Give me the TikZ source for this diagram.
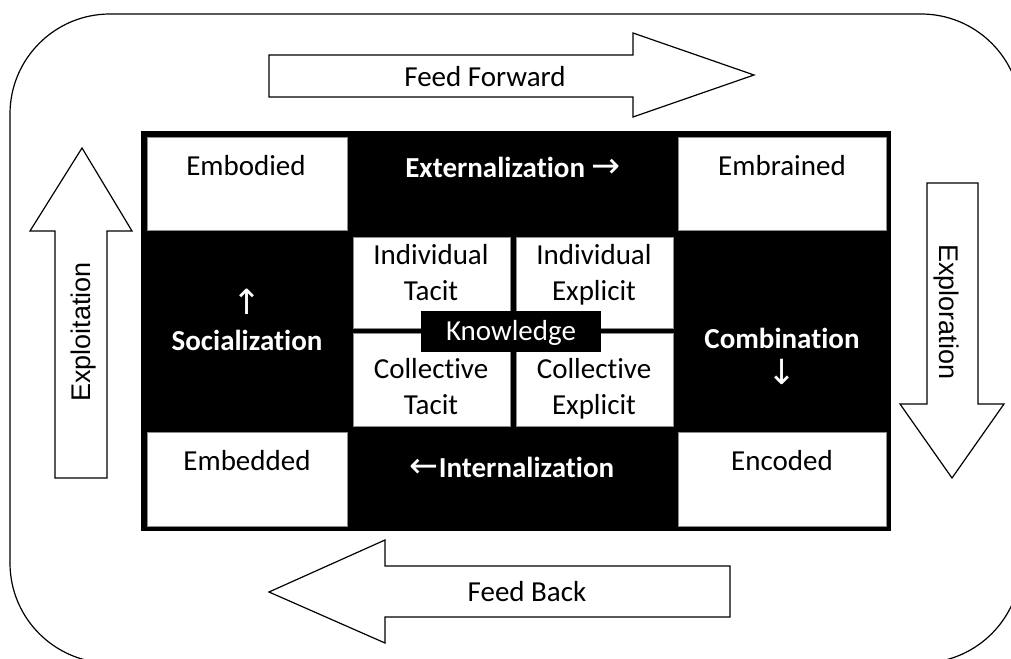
\documentclass[tikz,border=0pt]{standalone}
\usepackage{fontspec}
\setmainfont{Carlito}[Ligatures={NoCommon}]
\newfontfamily\arrowfont{DejaVu Sans}
\newfontfamily\vertfont{Liberation Sans}
\usepackage{tikz}
\usetikzlibrary{positioning}

\newcommand\arr[1]{{\arrowfont\mdseries\fontsize{26}{27}\selectfont #1}}

\tikzset{
  cell/.style={fill=white,draw=black!45,line width=0.4pt},
  lbl/.style={font=\fontsize{21.75}{27}\selectfont,align=center,inner sep=0pt},
  dark/.style={lbl,text=white,font=\fontsize{21.75}{27}\selectfont\bfseries},
  fatarrow/.style={draw=black,fill=white,line width=0.9pt,line join=miter},
  vlbl/.style={font=\vertfont\fontsize{20.25}{24}\selectfont,inner sep=0pt}
}

\begin{document}
\begin{tikzpicture}[x=0.75pt,y=-0.75pt]
\useasboundingbox (0,0) rectangle (1011,659);
% outer frame
\draw[line width=0.9pt,rounded corners=75pt] (10,14) rectangle (1021,663);
% the grid
\fill[black] (141,131) rectangle (891,531);
\draw[cell] (147,137) rectangle (347,230);
\draw[cell] (678,137) rectangle (886,230);
\draw[cell] (147,432) rectangle (347,526);
\draw[cell] (678,432) rectangle (886,526);
\draw[cell] (353,237) rectangle (510,328);
\draw[cell] (516,237) rectangle (673,328);
\draw[cell] (353,333) rectangle (510,426);
\draw[cell] (516,333) rectangle (673,426);
\fill[black] (421,311) rectangle (601,352);
% corner labels
\node[lbl](embodied) at (246,166){Embodied};
\node[lbl](embrained) at (782,166){Embrained};
\node[lbl](embedded) at (247,461){Embedded};
\node[lbl](encoded) at (782,461){Encoded};
% modes
\node[dark](extern) at (513,167){Externalization \arr{→}};
\node[dark](social) at (247,320){\arr{↑}\\Socialization};
\node[dark](combin) at (782,356){Combination\\\arr{↓}};
\node[dark](intern) at (512,467){\arr{←}Internalization};
% centre
\node[lbl](indtacit) at (431,275){Individual\strut\\Tacit\strut};
\node[lbl](indexpl) at (594,275){Individual\strut\\Explicit\strut};
\node[lbl](coltacit) at (431,389){Collective\strut\\Tacit\strut};
\node[lbl](colexpl) at (594,389){Collective\strut\\Explicit\strut};
\node[lbl,text=white](knowledge) at (511,333){Knowledge};
% big arrows
\draw[fatarrow] (269,55) -- (633,55) -- (633,33) -- (754,75) -- (633,117) -- (633,97) -- (269,97) -- cycle;
\node[lbl](forward) at (485,77){Feed Forward};
\draw[fatarrow] (730,566) -- (385,566) -- (385,540) -- (269,592) -- (385,643) -- (385,617) -- (730,617) -- cycle;
\node[lbl](back) at (527,592){Feed Back};
\draw[fatarrow] (55,478) -- (55,231) -- (30,231) -- (82,148) -- (132,231) -- (107,231) -- (107,478) -- cycle;
\node[vlbl,rotate=90](exploit) at (84,332){Exploitation};
\draw[fatarrow] (927,183) -- (978,183) -- (978,404) -- (1004,404) -- (952,478) -- (900,404) -- (927,404) -- cycle;
\node[vlbl,rotate=-90](explore) at (946,312){Exploration};
\end{tikzpicture}
\end{document}
